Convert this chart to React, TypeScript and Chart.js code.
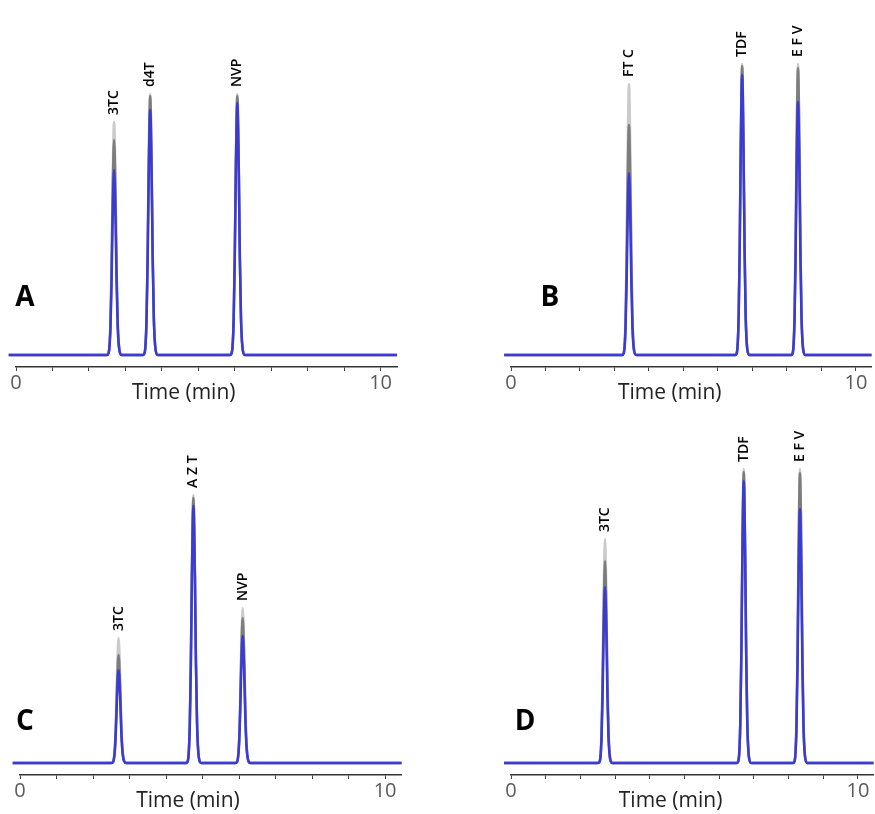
import React, { useEffect, useRef } from "react";
import { Chart, registerables } from "chart.js";

Chart.register(...registerables);

// ---- Chromatogram data (retention time in min, peak heights in mAU) ----
// Three overlaid injections per run: highest replicate, middle replicate, blue run.

const namesA = ["3TC", "d4T", "NVP"];
const rtA = [2.69, 3.68, 6.07];
const hiA = [97.1, 108.8, 108.8];
const midA = [89.6, 107.9, 107.9];
const blueA = [77.1, 102.1, 105.0];

const namesB = ["FT C", "TDF", "E F V"];
const rtB = [3.42, 6.7, 8.32];
const hiB = [112.9, 121.3, 121.3];
const midB = [95.8, 120.4, 119.6];
const blueB = [75.8, 116.7, 105.4];

const namesC = ["3TC", "A Z T", "NVP"];
const rtC = [2.7, 4.75, 6.1];
const hiC = [52.1, 111.7, 64.6];
const midC = [45.0, 110.4, 60.4];
const blueC = [38.8, 107.1, 52.9];

const namesD = ["3TC", "TDF", "E F V"];
const rtD = [2.71, 6.71, 8.33];
const hiD = [93.3, 122.5, 122.5];
const midD = [84.2, 121.3, 120.8];
const blueD = [73.3, 117.5, 105.8];

// Peak profile: time offset from apex (min) and fraction of apex height
const profileOffsets = [-0.2, -0.15, -0.1, -0.07, -0.04, 0, 0.04, 0.07, 0.1, 0.15, 0.21];
const profileShape = [0, 0.01, 0.14, 0.38, 0.73, 1, 0.73, 0.38, 0.15, 0.02, 0];

// Run window (min)
const runStart = -0.2;
const runEnd = 10.45;
const tickLabels = [0, 10];

type Pt = { x: number; y: number };

function buildTrace(rts: number[], heights: number[]): Pt[] {
  const pts: Pt[] = [{ x: runStart, y: 0 }];
  rts.forEach((rt, i) => {
    profileOffsets.forEach((o, k) => {
      pts.push({ x: rt + o, y: heights[i] * profileShape[k] });
    });
  });
  pts.push({ x: runEnd, y: 0 });
  return pts;
}

type PanelDef = {
  letter: string;
  names: string[];
  rt: number[];
  hi: number[];
  mid: number[];
  blue: number[];
  left: number;
  top: number;
  width: number;
  padLeft: number;
  padRight: number;
  letterX: number;
  letterY: number;
};

const PANEL_H = 407;
const FONT = "'Open Sans', 'DejaVu Sans', sans-serif";

const panels: PanelDef[] = [
  { letter: "A", names: namesA, rt: rtA, hi: hiA, mid: midA, blue: blueA,
    left: 0, top: 0, width: 437, padLeft: 16, padRight: 40, letterX: 25, letterY: 298 },
  { letter: "B", names: namesB, rt: rtB, hi: hiB, mid: midB, blue: blueB,
    left: 437, top: 0, width: 438, padLeft: 74, padRight: 3.5, letterX: 113, letterY: 298 },
  { letter: "C", names: namesC, rt: rtC, hi: hiC, mid: midC, blue: blueC,
    left: 0, top: 408, width: 437, padLeft: 20, padRight: 35.5, letterX: 25, letterY: 314 },
  { letter: "D", names: namesD, rt: rtD, hi: hiD, mid: midD, blue: blueD,
    left: 437, top: 408, width: 438, padLeft: 74, padRight: 1.5, letterX: 88, letterY: 314 },
];

function Panel({ def }: { def: PanelDef }) {
  const ref = useRef<HTMLCanvasElement | null>(null);

  useEffect(() => {
    if (!ref.current) return;

    const annotate = {
      id: "peakAnnotations",
      afterDraw(chart: any) {
        const { ctx, chartArea } = chart;
        const xs = chart.scales.x;
        const ys = chart.scales.y;
        ctx.save();
        // peak names, rotated above each apex
        ctx.fillStyle = "#000";
        ctx.font = `600 14px ${FONT}`;
        ctx.textAlign = "left";
        ctx.textBaseline = "middle";
        def.names.forEach((name, i) => {
          const x = xs.getPixelForValue(def.rt[i]);
          const y = ys.getPixelForValue(def.hi[i]) - 7;
          ctx.save();
          ctx.translate(x, y);
          ctx.rotate(-Math.PI / 2);
          ctx.fillText(name, 0, 0);
          ctx.restore();
        });
        // axis title
        ctx.fillStyle = "#222";
        ctx.font = `21px ${FONT}`;
        ctx.textAlign = "center";
        ctx.fillText("Time (min)", xs.getPixelForValue(4.6), chartArea.bottom + 26);
        // panel letter
        ctx.fillStyle = "#000";
        ctx.font = `bold 28px ${FONT}`;
        ctx.fillText(def.letter, def.letterX, def.letterY);
        ctx.restore();
      },
    };

    const common = { fill: false, pointRadius: 0, borderWidth: 2.5, cubicInterpolationMode: "monotone" as const, clip: false as const };

    const chart = new Chart(ref.current, {
      type: "line",
      data: {
        datasets: [
          { ...common, data: buildTrace(def.rt, def.blue), borderColor: "#3a3ad4" },
          { ...common, data: buildTrace(def.rt, def.mid), borderColor: "#7d7d7d" },
          { ...common, data: buildTrace(def.rt, def.hi), borderColor: "#cacaca" },
        ],
      },
      options: {
        animation: false,
        responsive: false,
        parsing: false,
        layout: { padding: { left: def.padLeft, right: def.padRight, top: 55, bottom: 0 } },
        plugins: { legend: { display: false }, tooltip: { enabled: false } },
        scales: {
          x: {
            type: "linear",
            min: 0,
            max: runEnd,
            afterFit: (s: any) => { s.height = 40; },
            border: { display: true, color: "#333", width: 1.5 },
            grid: { display: true, drawOnChartArea: false, drawTicks: true, tickLength: 4, color: "#444", lineWidth: 1 },
            ticks: {
              stepSize: 1,
              autoSkip: false,
              includeBounds: false,
              maxRotation: 0,
              padding: 0,
              color: "#5a5a5a",
              font: { family: FONT, size: 20 },
              callback: (v: any) => (tickLabels.includes(Number(v)) ? String(v) : ""),
            },
          },
          y: { display: false, min: -5, max: 125 },
        },
      },
      plugins: [annotate],
    });
    return () => chart.destroy();
  }, [def]);

  return (
    <canvas
      ref={ref}
      width={def.width}
      height={PANEL_H}
      style={{ position: "absolute", left: def.left, top: def.top, width: def.width, height: PANEL_H }}
    />
  );
}

export default function App() {
  return (
    <div style={{ position: "absolute", left: 0, top: 0, width: 875, height: 814, background: "#fff" }}>
      {panels.map((p) => (
        <Panel key={p.letter} def={p} />
      ))}
    </div>
  );
}
